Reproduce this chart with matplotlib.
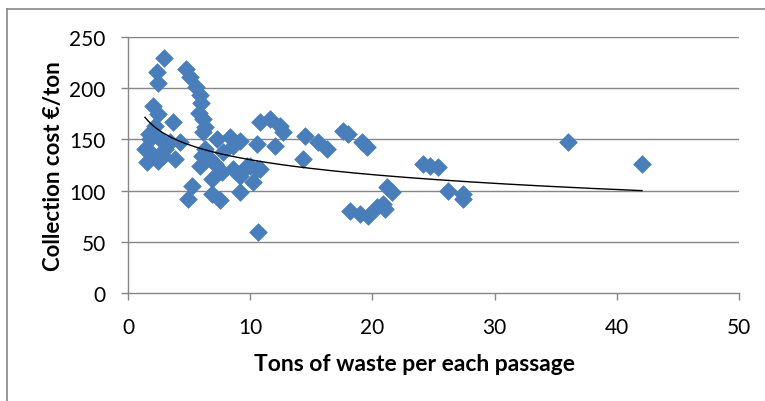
import numpy as np
import matplotlib
matplotlib.use("Agg")
import matplotlib.pyplot as plt
from matplotlib.lines import Line2D

plt.rcParams['font.family'] = ['Lato', 'DejaVu Sans']

# Tons of waste per each passage
tons = [
    2.95, 2.37, 2.45, 2.05, 2.45, 2.21, 3.68, 2.62, 3.44, 4.26,
    1.80, 1.55, 2.86, 3.85, 1.80, 1.39, 3.03, 2.45, 1.72,
    4.75, 5.07, 5.56, 5.89, 5.97, 5.81, 6.14, 6.30, 5.24, 4.91, 6.06, 6.14,
    5.89, 6.71, 7.28, 7.77, 8.35, 8.59, 9.17, 10.56, 7.69, 8.59, 9.17, 9.98,
    10.80, 10.23, 9.17, 6.87, 7.53, 9.74, 10.56, 6.87, 6.30, 7.12,
    10.80, 11.62, 12.44, 12.68, 12.03, 10.64,
    14.48, 15.55, 16.28, 14.32, 17.59, 18.00, 19.15, 19.56, 21.19, 21.60,
    18.17, 18.99, 19.64, 20.38, 20.87, 21.03, 24.14, 24.71, 25.37, 26.19,
    27.41, 27.41, 36.0, 42.06,
]
# Collection cost EUR/ton
cost = [
    229.5, 215.8, 205.1, 182.6, 174.8, 163.1, 167.0, 150.4, 147.5, 147.5,
    137.7, 127.9, 133.8, 130.9, 150.4, 140.6, 140.6, 128.9, 155.3,
    218.8, 210.9, 201.2, 193.4, 185.5, 175.8, 169.9, 162.1, 104.5, 91.8, 133.8, 157.2,
    124.0, 130.9, 150.4, 137.7, 152.3, 143.6, 148.4, 145.5, 118.2, 121.1, 114.3, 124.0,
    121.1, 108.4, 98.6, 96.7, 90.8, 124.0, 121.1, 111.3, 140.6, 126.0,
    167.0, 169.9, 163.1, 157.2, 143.6, 59.6,
    153.3, 147.5, 140.6, 130.9, 158.2, 155.3, 147.5, 142.6, 103.5, 98.6,
    80.1, 77.1, 75.2, 84.0, 86.9, 82.0, 126.0, 124.0, 123.0, 99.6,
    96.7, 91.8, 147.5, 126.0,
]
# Logarithmic trend line: cost = a + b*ln(tons)
trend_a = 178.5
trend_b = -21.0
x_ticks = [0, 10, 20, 30, 40, 50]
y_ticks = [0, 50, 100, 150, 200, 250]

x = np.array(tons)
y = np.array(cost)

fig = plt.figure(figsize=(7.65, 4.02), dpi=100)
ax = fig.add_axes([128/765, 1-294/402, (739-128)/765, (294-38)/402])

grid_c = '#868686'
for v in y_ticks[1:]:
    ax.axhline(v, color=grid_c, lw=1.0, zorder=0)

ax.scatter(x, y, marker='D', s=9.0**2, color='#4A7EBB', edgecolors='#4A7EBB',
           linewidths=0.5, zorder=2)

xs = np.linspace(x.min(), x.max(), 200)
ax.plot(xs, trend_a + trend_b*np.log(xs), color='black', lw=1.0, zorder=3)

ax.set_xlim(0, 50)
ax.set_ylim(0, 250)
ax.set_xticks(x_ticks)
ax.set_yticks(y_ticks)
for s in ['top', 'right']:
    ax.spines[s].set_visible(False)
for s in ['left', 'bottom']:
    ax.spines[s].set_color(grid_c)
    ax.spines[s].set_linewidth(1.0)
ax.tick_params(axis='both', colors=grid_c, length=5, width=1.0, labelsize=15,
               labelcolor='black')
ax.tick_params(axis='y', pad=11)
ax.tick_params(axis='x', pad=12)
ax.set_xlabel('Tons of waste per each passage', fontsize=16.5, fontweight='bold')
ax.xaxis.set_label_coords((414-128)/611, -(365-294)/256, transform=ax.transAxes)
ax.xaxis.label.set_va('center')
ax.set_ylabel('Collection cost €/ton', fontsize=16, fontweight='bold')
ax.yaxis.set_label_coords(-(128-54)/611, 0.5, transform=ax.transAxes)
ax.yaxis.label.set_va('center')

fig.add_artist(Line2D([7/765, 7/765], [0, 1-10/402], color=grid_c, lw=1.2,
                      transform=fig.transFigure))
fig.add_artist(Line2D([7/765, 1], [1-10/402, 1-10/402], color=grid_c, lw=1.2,
                      transform=fig.transFigure))

fig.savefig('out.png', dpi=100)
